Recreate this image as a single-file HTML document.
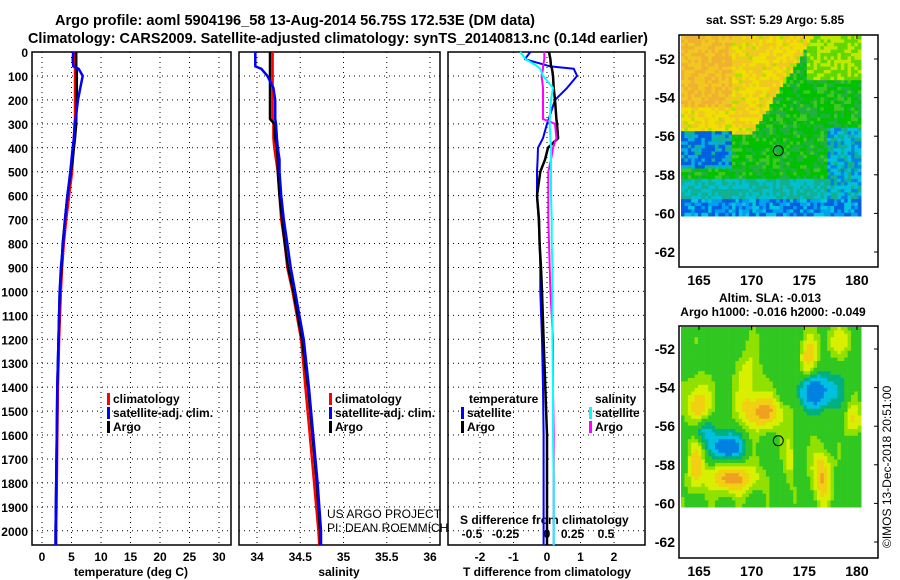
<!DOCTYPE html>
<html><head><meta charset="utf-8"><style>
html,body{margin:0;padding:0;background:#fff;}
svg{display:block;font-family:"Liberation Sans",Arial,sans-serif;}
.b{font-weight:bold;font-size:12px;}
.m{font-weight:bold;font-size:14px;}
</style></head><body>
<svg id="s" width="900" height="580" viewBox="0 0 900 580">
<text x="55" y="25" class="b" style="font-size:15px" textLength="480" lengthAdjust="spacingAndGlyphs">Argo profile: aoml 5904196_58 13-Aug-2014 56.75S 172.53E (DM data)</text>
<text x="28" y="43" class="b" style="font-size:15px" textLength="620" lengthAdjust="spacingAndGlyphs">Climatology: CARS2009. Satellite-adjusted climatology: synTS_20140813.nc (0.14d earlier)</text>
<g id="g"></g>
</svg>
<script>
// ---- data ----
const depthTicks=[0,100,200,300,400,500,600,700,800,900,1000,1100,1200,1300,1400,1500,1600,1700,1800,1900,2000];
const tempTicks=[0,5,10,15,20,25,30];
const salTicks=[34,34.5,35,35.5,36];
const salTickLabels=["34","34.5","35","35.5","36"];
const tdTicks=[-2,-1,0,1,2];
const sdTicks=[-0.5,-0.25,0,0.25,0.5];
const sdTickLabels=["-0.5","-0.25","0","0.25","0.5"];
const depths=[0,30,60,70,100,150,200,280,300,360,400,450,500,600,700,800,900,1000,1200,1400,1600,1800,2000,2060];
const tempArgo=[5.8,5.8,5.8,5.9,5.9,5.9,5.9,5.8,5.8,5.6,5.4,5.2,4.9,4.3,3.9,3.5,3.3,3.0,2.8,2.6,2.5,2.4,2.3,2.3];
const tempClim=[5.6,5.6,5.6,5.6,5.6,5.6,5.6,5.6,5.5,5.4,5.3,5.2,5.1,4.6,4.1,3.7,3.4,3.2,2.9,2.7,2.6,2.5,2.4,2.4];
const tempSat=[5.3,5.2,5.3,6.2,6.9,6.5,6.1,5.7,5.6,5.4,5.2,5.0,4.8,4.3,3.9,3.6,3.2,3.0,2.8,2.6,2.5,2.4,2.3,2.3];
const salArgo=[34.15,34.15,34.15,34.15,34.15,34.15,34.15,34.15,34.2,34.21,34.23,34.24,34.24,34.26,34.29,34.32,34.36,34.42,34.52,34.59,34.64,34.69,34.73,34.73];
const salClim=[34.18,34.18,34.18,34.18,34.18,34.18,34.18,34.18,34.19,34.19,34.2,34.22,34.24,34.26,34.28,34.32,34.35,34.41,34.51,34.56,34.61,34.66,34.71,34.72];
const salSat=[33.98,33.98,33.98,34.05,34.12,34.19,34.21,34.21,34.22,34.23,34.24,34.26,34.26,34.28,34.31,34.35,34.39,34.44,34.54,34.6,34.65,34.7,34.74,34.74];
const tdSat=[-0.5,-0.66,0.1,0.8,0.9,0.6,0.24,0.05,0,-0.12,-0.27,-0.28,-0.3,-0.3,-0.25,-0.22,-0.2,-0.2,-0.15,-0.12,-0.1,-0.1,-0.1,-0.1];
const tdArgo=[0.06,0.1,0.12,0.15,0.18,0.2,0.24,0.28,0.3,0.33,0.03,-0.06,-0.2,-0.3,-0.24,-0.22,-0.18,-0.15,-0.1,-0.05,0,0,0,0];
const sdSat=[-0.2,-0.16,-0.07,-0.05,-0.03,0.045,0.03,0.02,0.02,0.025,0.03,0.03,0.03,0.03,0.035,0.035,0.04,0.04,0.04,0.045,0.045,0.05,0.05,0.05];
const sdArgo=[-0.02,-0.02,-0.03,-0.03,-0.04,-0.03,-0.03,-0.03,0.06,0.07,0.045,0.03,0.01,0.01,0.01,0.015,0.02,0.025,0.045,0.045,0.05,0.05,0.05,0.05];

// ---- axes ----
const Y0=52,YB=545,DK=0.2394;
const yD=d=>Y0+d*DK;
const xT=t=>42+t*5.9;
const xS=s=>257+(s-34)*86.5;
const xTD=t=>547+t*33.5;
const xSD=s=>547+s*134;
const P=[{x0:32,x1:231},{x0:239,x1:440},{x0:448,x1:645}];
const g=document.getElementById('g');
const NS='http://www.w3.org/2000/svg';
function el(t,a,p){const e=document.createElementNS(NS,t);for(const k in a)e.setAttribute(k,a[k]);(p||g).appendChild(e);return e;}
function txt(x,y,s,a,p){const e=el('text',Object.assign({x:x,y:y},a||{}),p);e.textContent=s;return e;}

P.forEach((p,i)=>{
  const pg=el('g',{});
  
  
  depthTicks.forEach(d=>{if(d>0){const l=el('line',{x1:p.x0,x2:p.x1,y1:yD(d),y2:yD(d),stroke:'#000','stroke-width':1,'stroke-dasharray':'1,4'},pg);
    }});
  const r=el('rect',{x:p.x0,y:Y0,width:p.x1-p.x0,height:YB-Y0,fill:'none',stroke:'#000','stroke-width':1.5},pg);
  
});
function vgrid(vals,f,p){vals.forEach(v=>{const x=f(v);if(x>p.x0+1&&x<p.x1-1){const l=el('line',{x1:x,x2:x,y1:Y0,y2:YB,stroke:'#000','stroke-width':1,'stroke-dasharray':'1,4'});
  }});}
vgrid(tempTicks,xT,P[0]);vgrid(salTicks,xS,P[1]);vgrid(tdTicks,xTD,P[2]);
depthTicks.forEach(d=>{const t=txt(28,yD(d)+5,String(d),{class:'b','text-anchor':'end'});
  });
tempTicks.forEach(v=>{const t=txt(xT(v),561,String(v),{class:'b','text-anchor':'middle'});
  });
salTicks.forEach((v,i)=>{const t=txt(xS(v),561,salTickLabels[i],{class:'b','text-anchor':'middle'});
  });
tdTicks.forEach(v=>{const t=txt(xTD(v),561,String(v),{class:'b','text-anchor':'middle'});
  });
sdTicks.forEach((v,i)=>{const t=txt(xSD(v)-(v<0?8:(v>0?8:0)),538,sdTickLabels[i],{class:'b','text-anchor':'middle'});
  });
[[131,'temperature (deg C)','temperature-axis-title'],[339,'salinity','salinity-axis-title'],[547,'T difference from climatology','t-diff-axis-title']].forEach(a=>{
  const t=txt(a[0],576,a[1],{class:'b','text-anchor':'middle'});});
const st=txt(460,524,'S difference from climatology',{class:'b'});


function line(vals,f,color,name,w){
  const pts=depths.map((d,i)=>f(vals[i]).toFixed(1)+','+yD(d).toFixed(1)).join(' ');
  const l=el('polyline',{points:pts,fill:'none',stroke:color,'stroke-width':w||2.5,'stroke-linejoin':'round'});
  }
line(tempClim,xT,'#f00','temperature-climatology-line');
line(tempArgo,xT,'#000','temperature-argo-line');
line(tempSat,xT,'#00f','temperature-satellite-line');
line(salClim,xS,'#f00','salinity-climatology-line');
line(salArgo,xS,'#000','salinity-argo-line');
line(salSat,xS,'#00f','salinity-satellite-line');
line(tdSat,xTD,'#00f','t-diff-satellite-line',2);
line(tdArgo,xTD,'#000','t-diff-argo-line',2.5);
line(sdArgo,xSD,'#f0f','s-diff-argo-line',2);
line(sdSat,xSD,'#0ff','s-diff-satellite-line',2);

function leg(x,y,c,s,name){const r=el('rect',{x:x,y:y-10,width:3,height:12,fill:c});
  
  const t=txt(x+6,y,s,{class:'b'});}
leg(107,403,'#f00','climatology','legend-climatology');
leg(107,417,'#00f','satellite-adj. clim.','legend-satellite-adj');
leg(107,431,'#000','Argo','legend-argo');
leg(329,403,'#f00','climatology','legend2-climatology');
leg(329,417,'#00f','satellite-adj. clim.','legend2-satellite-adj');
leg(329,431,'#000','Argo','legend2-argo');
const lt=txt(469,403,'temperature',{class:'b'});
const ls=txt(595,403,'salinity',{class:'b'});
leg(461,417,'#00f','satellite','legend-t-satellite');
leg(461,431,'#000','Argo','legend-t-argo');
leg(589,417,'#0ff','satellite','legend-s-satellite');
leg(589,431,'#f0f','Argo','legend-s-argo');
const u1=txt(327,518,'US ARGO PROJECT',{style:'font-size:12px'});
const u2=txt(327,532,'PI: DEAN ROEMMICH',{style:'font-size:12px'});

// ---- maps ----
function hash(i,j,k){let h=(i*374761393+j*668265263+k*2147483647)|0;h=(h^(h>>>13))*1274126177|0;return ((h^(h>>>16))>>>0)/4294967296;}
function mapFrame(name){const mg=el('g',{});return mg;}
const lonX=l=>699+(l-165)*10.53;
function drawMap(top,latY,colorFn,mg,cell){
  for(let y=top+1;y<top+180;y+=cell){for(let x=681;x<859;x+=cell){
    const lon=165+(x-699)/10.53, lat=-52-(y-latY)/19.3;
    el('rect',{x:x,y:y,width:cell+0.3,height:cell+0.3,fill:colorFn(lon,lat,x,y)},mg);}}
  const f=el('rect',{x:679,y:top,width:199,height:232,fill:'none',stroke:'#000','stroke-width':1.5},mg);
  
  [-52,-54,-56,-58,-60,-62].forEach(la=>{const yy=latY+(-52-la)*19.3;
    el('line',{x1:878,x2:874,y1:yy,y2:yy,stroke:'#000'},mg);
    const t=txt(675,yy+5,String(la),{class:'m','text-anchor':'end'},mg);});
  [165,170,175,180].forEach(lo=>{const xx=lonX(lo);el('line',{x1:xx,x2:xx,y1:top,y2:top+4,stroke:'#000'},mg);
    const t=txt(xx,top+250,String(lo),{class:'m','text-anchor':'middle'},mg);});
  const c=el('circle',{cx:lonX(172.53),cy:latY+(56.75-52)*19.3,r:5,fill:'none',stroke:'#000','stroke-width':1},mg);
  
}
const m1=mapFrame('sst-map');
drawMap(35,59,(lon,lat,x,y)=>{
  const r=hash(x,y,1);
  if(lat<-59.2) return r<0.5?'#0060e0':(r<0.8?'#00a0f0':'#00c8e0');
  if(lon<168&&lat<-55.6&&lat>-57.6) return r<0.55?'#0060e0':(r<0.8?'#00b0e0':'#10b0a0');
  const diag=-51-(175.5-lon)*0.85;
  if(lat>diag&&lat>-55.8){ if(lon<168&&lat>-54.5) return r<0.5?'#f0b030':'#f0c820'; return r<0.1?'#b0e000':(r<0.55?'#f0c820':'#f0e000');}
  if(lat>-53&&lon>175) return r<0.5?'#c0e800':'#60d800';
  if(lon>177&&lat<-55.5) return r<0.4?'#0080e0':(r<0.7?'#00c0e0':'#10b090');
  if(lat<-58.2) return r<0.5?'#00c0d0':'#10b090';
  return r<0.5?'#00c000':(r<0.8?'#20b040':'#40c820');
},m1,3.4);
const t1=txt(775,24,'sat. SST: 5.29 Argo: 5.85',{class:'b','text-anchor':'middle'},m1);
const m2=mapFrame('sla-map');
const blobs=[[164.8,-55.3,1.0,1.6,1.2],[168,-58.6,2.4,0.8,1.1],[171,-55.2,2.0,0.9,1.0],[176.5,-58.5,0.9,1.4,1.0],[175.2,-52.4,0.8,1.2,0.8],[179.5,-55.6,0.8,0.8,0.7],[165,-56.1,1.0,0.8,-1.3],[167.5,-57,1.3,0.7,-1.4],[176,-54.1,1.8,0.9,-1.2],[164.5,-58,0.7,1.3,0.7],[169.5,-53.5,1.2,1.8,0.5],[178,-51.5,1.5,0.8,0.5],[173.5,-57.5,0.5,1.5,0.5]];
drawMap(326,349,(lon,lat)=>{
  let v=0.15*Math.sin(lon*2.3)*Math.cos(lat*1.1);
  blobs.forEach(b=>{const dx=(lon-b[0])/b[2],dy=(lat-b[1])/b[3];v+=b[4]*Math.exp(-(dx*dx+dy*dy));});
  if(v>0.95) return '#f0a020'; if(v>0.65) return '#f0d010'; if(v>0.38) return '#d8f000'; if(v>0.15) return '#90e000';
  if(v>-0.2) return '#30c820'; if(v>-0.45) return '#00b080'; if(v>-0.8) return '#00c0e0'; return '#0080e0';
},m2,3.4);
const t2=txt(770,302,'Altim. SLA: -0.013',{class:'b','text-anchor':'middle'},m2);
const t3=txt(773,316,'Argo h1000: -0.016 h2000: -0.049',{class:'b','text-anchor':'middle'},m2);
const cp=txt(0,0,'©IMOS 13-Dec-2018 20:51:00',{style:'font-size:12px',transform:'translate(891,548) rotate(-90)'});

</script>
</body></html>
